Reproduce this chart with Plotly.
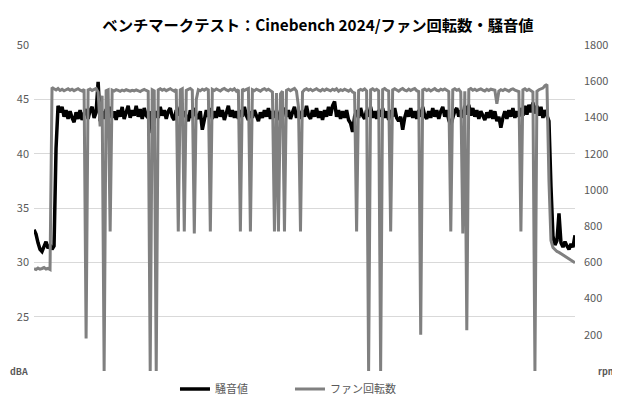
import plotly.graph_objects as go

# sample index (time steps, no axis labels in the source chart)
n_samples = 271
sample = list(range(n_samples))

# 騒音値 (dBA)
noise_dba = [
    33.0, 32.6, 31.8, 31.2, 31.0, 31.4, 31.9, 31.3, 31.6, 31.2, 31.5, 40.5,
    44.4, 43.8, 44.3, 43.4, 44.0, 43.2, 43.9, 43.3, 42.9, 43.8,
    43.2, 44.0, 43.1, 43.7, 44.1, 43.2, 44.0, 44.3, 43.3, 43.8,
    46.6, 43.0, 43.9, 43.2, 44.1, 43.4, 44.3, 43.3, 43.9, 43.1,
    44.0, 43.4, 44.3, 43.2, 43.9, 44.4, 43.3, 44.0, 43.5, 44.4,
    43.4, 44.1, 43.2, 44.2, 43.5, 43.3, 43.9, 41.9, 43.2, 43.9,
    43.3, 44.3, 43.5, 44.0, 43.2, 43.9, 44.2, 43.4, 43.1, 44.0,
    43.5, 44.3, 43.3, 43.9, 43.4, 43.0, 44.0, 43.3, 44.2, 43.5,
    43.2, 43.9, 42.2, 43.3, 44.0, 43.4, 44.2, 43.2, 43.9, 43.3,
    44.3, 43.4, 44.0, 43.1, 43.9, 44.4, 43.4, 44.0, 43.3, 43.9,
    43.2, 44.0, 43.4, 44.3, 43.5, 43.1, 43.9, 43.3, 44.0, 43.4,
    43.0, 43.8, 43.3, 44.0, 43.4, 44.2, 43.2, 43.9, 43.3, 44.0,
    43.4, 43.1, 43.9, 44.2, 43.4, 44.0, 43.2, 43.8, 44.3, 43.3,
    43.9, 43.2, 44.0, 43.4, 44.4, 43.5, 43.2, 44.0, 43.4, 44.2,
    43.3, 43.9, 43.1, 44.0, 43.4, 44.3, 43.5, 44.4, 44.8, 43.4,
    44.0, 43.2, 43.9, 43.3, 44.0, 43.1, 42.8, 42.0, 43.4, 44.0,
    43.3, 44.2, 43.5, 43.2, 44.0, 43.4, 44.3, 43.3, 43.9, 43.2,
    44.0, 43.4, 44.2, 43.3, 43.9, 43.1, 44.0, 43.4, 44.2, 43.3,
    43.0, 43.4, 42.2, 43.3, 44.0, 43.4, 44.2, 43.3, 43.9, 43.2,
    44.0, 43.4, 44.3, 43.5, 43.2, 43.9, 43.3, 44.2, 43.4, 44.0,
    43.2, 43.9, 44.3, 43.4, 44.0, 43.1, 42.6, 43.3, 43.9, 44.2,
    43.4, 44.0, 43.3, 44.4, 43.6, 44.5, 43.5, 44.2, 43.4, 44.0,
    43.2, 43.9, 43.4, 43.1, 43.8, 43.3, 44.0, 43.2, 43.9, 43.0,
    43.4, 42.4, 43.3, 43.9, 43.2, 44.0, 43.4, 44.2, 43.3, 43.9,
    43.4, 44.2, 43.5, 44.4, 43.6, 44.5, 43.8, 44.7, 43.7, 44.4,
    43.5, 44.3, 43.3, 44.0, 43.5,
    43.0, 37.0, 32.4, 31.6, 32.0, 34.5, 31.8, 31.4, 31.9, 31.5, 31.2, 31.7, 31.4, 32.5,
]

# ファン回転数 (rpm)
fan_rpm = [
    565, 560, 568, 562, 566, 571, 563, 567, 561, 1565,
    1558, 1552, 1560, 1549, 1555, 1547, 1553, 1558, 1550, 1556,
    1548, 1554, 1559, 1551, 1546, 1555, 180, 1552, 1557, 1549,
    1555, 1560, 1540, 1350, 1520, 0, 1548, 1553, 770, 1551,
    1546, 1553, 1549, 1544, 1551, 1547, 1553, 1548, 1545, 1550,
    1547, 1552, 1548, 1543, 1550, 1555, 1549, 1544, 0, 1553,
    1547, 0, 1552, 1558, 1550, 1556, 1548, 1553, 1559, 1551,
    1545, 1556, 770, 1552, 1558, 770, 1549, 1555, 1560, 1551,
    760, 1500, 1553, 1547, 1556, 1550, 1558, 1552, 770, 1555,
    1549, 1557, 1551, 1546, 1555, 1560, 1552, 1547, 1556, 1550,
    1558, 1545, 1553, 770, 1557, 1549, 1555, 1560, 770, 1553,
    1547, 1556, 1551, 1545, 1554, 1559, 1550, 1556, 1548, 1540,
    770, 1535, 770, 1530, 1545, 770, 1550, 1556, 1548, 1554,
    1560, 1545, 1457, 770, 1540, 1553, 1558, 1550, 1556, 1547,
    1553, 1559, 1551, 1546, 1555, 1549, 1557, 1552, 1547, 1556,
    1550, 1558, 1545, 1553, 1548, 1556, 1551, 1545, 1554, 1540,
    1535, 770, 1548, 1555, 1550, 1557, 1546, 0, 1552, 1558,
    1549, 1555, 1547, 0, 1553, 1559, 1550, 1546, 770, 1552,
    1558, 1550, 1545, 1554, 1560, 1551, 1547, 1556, 1549, 1555,
    1560, 1548, 1543, 200, 1552, 1557, 1549, 1555, 1546, 1553,
    1559, 1550, 1547, 1556, 1551, 1557, 1548, 1543, 770, 1552,
    1558, 1550, 1555, 1540, 760, 1545, 225, 1553, 1559, 1550,
    1556, 1548, 1553, 1558, 1551, 1546, 1555, 1549, 1556, 1552,
    1550, 1475, 1545, 1553, 1548, 1556, 1550, 1545, 1554, 1558,
    1551, 1547, 1543, 770, 1552, 1558, 1549, 1555, 1546, 1540,
    0, 1545, 1553, 1558, 1562, 1575, 1582,
    1050, 720, 682, 668, 660, 655, 648, 642, 636, 628, 621, 614, 607, 598,
]

left_ticks = [25, 30, 35, 40, 45, 50]
right_ticks = [200, 400, 600, 800, 1000, 1200, 1400, 1600, 1800]

jp_font = "Noto Sans CJK JP"
tick_color = "#595959"

fig = go.Figure()

fig.add_trace(go.Scatter(
    x=sample, y=noise_dba, name="騒音値", mode="lines",
    line=dict(color="#000000", width=3.5),
))
fig.add_trace(go.Scatter(
    x=sample, y=fan_rpm, name="ファン回転数", mode="lines", yaxis="y2",
    line=dict(color="#808080", width=3),
))

# page body adds an 8px offset, so the figure is drawn 8px smaller
fig.update_layout(
    width=612, height=392,
    margin=dict(l=26, r=45, t=37, b=29, autoexpand=False),
    paper_bgcolor="white", plot_bgcolor="white",
    font=dict(family=jp_font, color=tick_color, size=11),
    title=dict(
        text="<b>ベンチマークテスト：Cinebench 2024/ファン回転数・騒音値</b>",
        x=0.5065, xanchor="center", y=0.955, yanchor="middle",
        font=dict(family=jp_font, size=15.3, color="#000000"),
    ),
    xaxis=dict(range=[0, n_samples - 1], showticklabels=False, showgrid=False,
               zeroline=False, showline=False),
    yaxis=dict(range=[20, 50], tickvals=left_ticks, showgrid=True,
               gridcolor="#d9d9d9", gridwidth=1, zeroline=False, showline=False,
               tickfont=dict(size=11, color=tick_color), ticks="",
               ticklabelstandoff=4),
    yaxis2=dict(range=[0, 1800], tickvals=right_ticks, overlaying="y", side="right",
                showgrid=False, zeroline=False, showline=False,
                tickfont=dict(size=11, color=tick_color), ticks="",
                ticklabelstandoff=8),
    showlegend=True,
    legend=dict(orientation="h", x=0.2606, xanchor="left",
                yref="container", y=0.028, yanchor="middle",
                font=dict(size=11, color=tick_color), bgcolor="rgba(0,0,0,0)",
                entrywidth=70, entrywidthmode="pixels"),
)

fig.add_annotation(text="<b>dBA</b>", xref="paper", yref="y", x=0, y=20,
                   xanchor="right", yanchor="middle", xshift=-4, showarrow=False,
                   font=dict(size=9, color=tick_color))
fig.add_annotation(text="<b>rpm</b>", xref="paper", yref="y", x=1, y=20,
                   xanchor="left", yanchor="middle", xshift=21, showarrow=False,
                   font=dict(size=9, color=tick_color))

fig.write_html("out.html")
